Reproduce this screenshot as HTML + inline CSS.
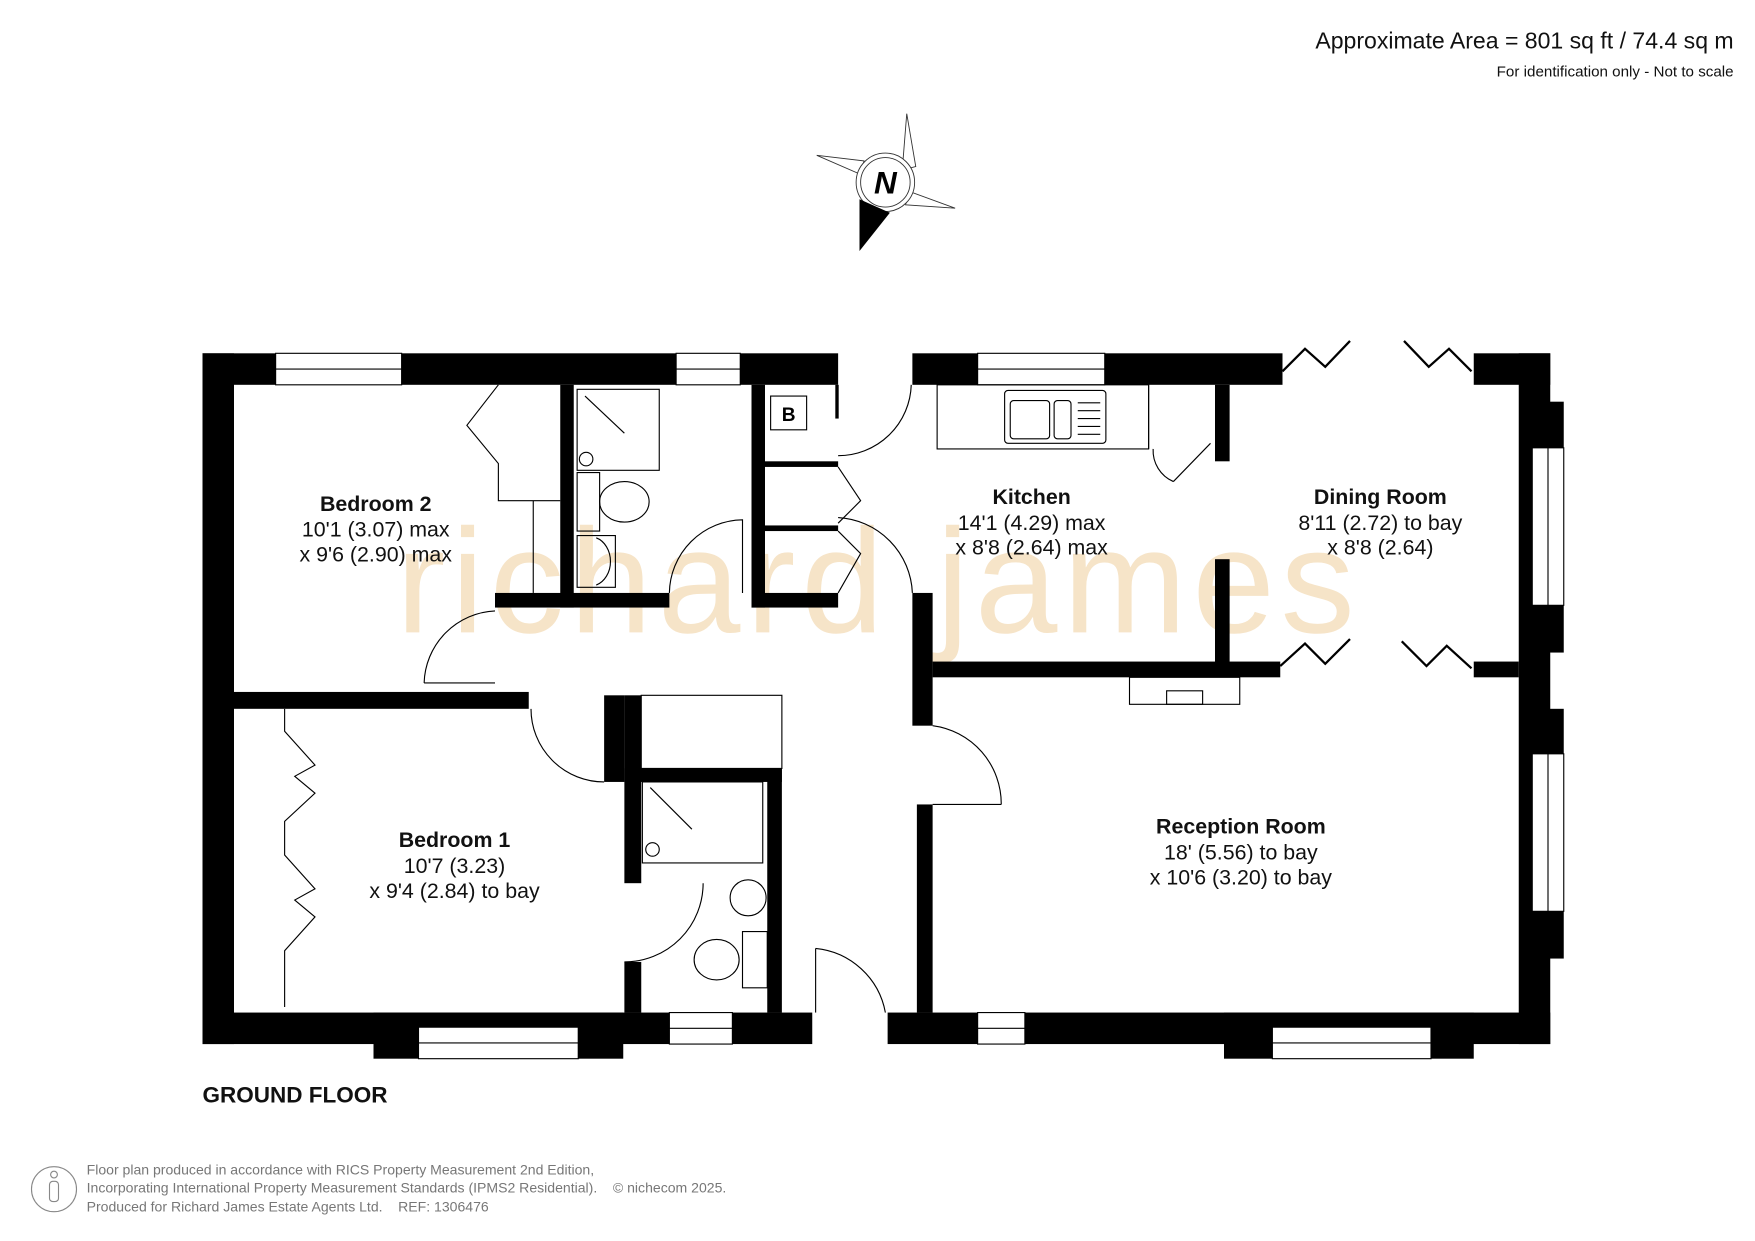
<!DOCTYPE html>
<html><head><meta charset="utf-8"><style>
html,body{margin:0;padding:0;background:#fff;}
svg{display:block;}
text{font-family:"Liberation Sans",Arial,sans-serif;}
</style></head><body>
<svg width="1755" height="1241" viewBox="0 0 1560 1103" xmlns="http://www.w3.org/2000/svg">
<rect width="1560" height="1103" fill="#fff"/>
<!-- watermark -->
<text x="352" y="562" font-size="132" fill="#f6e4c8" letter-spacing="5">richard james</text>

<!-- header -->
<text x="1541" y="43" font-size="20.5" text-anchor="end" fill="#111">Approximate Area = 801 sq ft / 74.4 sq m</text>
<text x="1541" y="68" font-size="13.5" text-anchor="end" fill="#111">For identification only - Not to scale</text>

<!-- compass -->
<g stroke="#333" stroke-width="0.8" fill="none">
<polygon points="806,101 814,148 802,151"/>
<polygon points="726,138 768,143 765,155"/>
<polygon points="849,185 808,170 805,182"/>
<circle cx="787" cy="162" r="26" fill="#fff"/>
<circle cx="787" cy="162" r="22"/>
</g>
<polygon points="764,177 764,223 791,189" fill="#000"/>
<text x="787" y="172" font-size="28" font-weight="bold" font-style="italic" text-anchor="middle" fill="#000">N</text>

<g fill="#000">
<rect x="180" y="314" width="565" height="28"/>
<rect x="180" y="314" width="28" height="614"/>
<rect x="180" y="900" width="542" height="28"/>
<rect x="332" y="900" width="222" height="41"/>
<rect x="811" y="314" width="329" height="28"/>
<rect x="1310" y="314" width="68" height="28"/>
<rect x="1350" y="314" width="28" height="614"/>
<rect x="1362" y="357" width="28" height="41"/>
<rect x="1362" y="538" width="28" height="42"/>
<rect x="1362" y="630" width="28" height="40"/>
<rect x="1362" y="810" width="28" height="42"/>
<rect x="789" y="900" width="589" height="28"/>
<rect x="1088" y="900" width="222" height="41"/>
<rect x="208" y="615" width="262" height="15"/>
<rect x="498" y="342" width="12" height="198"/>
<rect x="440" y="527" width="155" height="13"/>
<rect x="668" y="342" width="12" height="198"/>
<rect x="668" y="527" width="77" height="13"/>
<rect x="680" y="410" width="65" height="5"/>
<rect x="680" y="467" width="65" height="5"/>
<rect x="811" y="527" width="18" height="118"/>
<rect x="815" y="715" width="14" height="185"/>
<rect x="829" y="588" width="309" height="14"/>
<rect x="1080" y="342" width="13" height="68"/>
<rect x="1080" y="497" width="13" height="93"/>
<rect x="1310" y="588" width="40" height="14"/>
<rect x="537" y="618" width="18" height="77"/>
<rect x="555" y="618" width="15" height="167"/>
<rect x="555" y="855" width="15" height="45"/>
<rect x="555" y="683" width="140" height="12"/>
<rect x="682" y="683" width="13" height="217"/>
</g>
<g fill="#fff" stroke="#000" stroke-width="1">
<rect x="245" y="314" width="112" height="28"/><line x1="245" y1="328" x2="357" y2="328"/>
<rect x="601" y="314" width="57" height="28"/><line x1="601" y1="328" x2="658" y2="328"/>
<rect x="869" y="314" width="113" height="28"/><line x1="869" y1="328" x2="982" y2="328"/>
<rect x="372" y="913" width="142" height="28"/><line x1="372" y1="927" x2="514" y2="927"/>
<rect x="595" y="900" width="56" height="28"/><line x1="595" y1="914" x2="651" y2="914"/>
<rect x="869" y="900" width="42" height="28"/><line x1="869" y1="914" x2="911" y2="914"/>
<rect x="1131" y="913" width="141" height="28"/><line x1="1131" y1="927" x2="1272" y2="927"/>
<rect x="1362" y="398" width="28" height="140"/><line x1="1376" y1="398" x2="1376" y2="538"/>
<rect x="1362" y="670" width="28" height="140"/><line x1="1376" y1="670" x2="1376" y2="810"/>
</g>
<g fill="none" stroke="#000" stroke-width="1">
<polyline points="443,342 415,378 443,412 443,445 498,445"/>
<line x1="474" y1="445" x2="474" y2="527"/>
<rect x="513" y="346" width="73" height="72"/><line x1="520" y1="352" x2="555" y2="385"/><circle cx="521" cy="408" r="6"/>
<rect x="513" y="420" width="20" height="52"/><ellipse cx="555" cy="446" rx="22" ry="18"/>
<rect x="513" y="476" width="34" height="46"/><path d="M530,478 a18,22 0 0 1 0,42"/>
<path d="M595,527 A66,66 0 0 1 660,462 L660,527"/>
<path d="M377,607 A66,66 0 0 1 440,543"/><line x1="377" y1="607" x2="440" y2="607"/>
<path d="M472,630 A65,65 0 0 0 537,695"/>
<rect x="570" y="618" width="125" height="65"/>
<rect x="571" y="695" width="107" height="72"/><line x1="578" y1="700" x2="615" y2="737"/><circle cx="580" cy="755" r="6"/>
<circle cx="665" cy="798" r="16"/><rect x="660" y="828" width="22" height="50"/><ellipse cx="637" cy="853" rx="20" ry="18"/>
<path d="M555,855 A70,70 0 0 0 625,785"/>
<path d="M725,843 A70,70 0 0 1 787,900"/><line x1="725" y1="843" x2="725" y2="900"/>
<path d="M745,405 A65,65 0 0 0 810,342"/>
<polyline points="745,415 765,445 745,465"/>
<polyline points="745,472 765,492 745,527"/>
<path d="M745,460 A70,70 0 0 1 811,527"/>
<path d="M829,645 A70,70 0 0 1 890,715"/><line x1="829" y1="715" x2="890" y2="715"/>
<rect x="833" y="342" width="188" height="57"/>
<rect x="893" y="347" width="90" height="47" rx="3"/><rect x="898" y="356" width="35" height="34" rx="3"/><rect x="937" y="356" width="15" height="34" rx="3"/>
<line x1="958" y1="358" x2="978" y2="358"/><line x1="958" y1="365" x2="978" y2="365"/><line x1="958" y1="372" x2="978" y2="372"/><line x1="958" y1="379" x2="978" y2="379"/><line x1="958" y1="386" x2="978" y2="386"/>
<line x1="1021" y1="342" x2="1021" y2="399"/>
<polyline points="1043,428 1076,394"/><path d="M1043,428 A30,30 0 0 1 1025,399"/>
<rect x="1004" y="602" width="98" height="24"/><rect x="1037" y="614" width="32" height="12"/>
<polyline points="1140,330 1160,310 1178,326 1200,303" stroke-width="2"/>
<polyline points="1248,303 1270,326 1288,310 1308,330" stroke-width="2"/>
<polyline points="1138,592 1160,572 1178,590 1200,568" stroke-width="2"/>
<polyline points="1246,570 1268,592 1286,574 1308,594" stroke-width="2"/>
<polyline points="253,630 253,650 280,680 262,690 280,705 253,730 253,760 280,790 262,800 280,815 253,845 253,895" />
<rect x="685" y="352" width="32" height="30"/>
<line x1="744" y1="342" x2="744" y2="372" stroke-width="3"/>
</g>
<text x="701" y="374" font-size="17" font-weight="bold" text-anchor="middle">B</text>

<g font-size="19" text-anchor="middle" fill="#111">
<text x="334" y="454" font-weight="bold">Bedroom 2</text>
<text x="334" y="477">10'1 (3.07) max</text>
<text x="334" y="499">x 9'6 (2.90) max</text>
<text x="404" y="753" font-weight="bold">Bedroom 1</text>
<text x="404" y="776">10'7 (3.23)</text>
<text x="404" y="798">x 9'4 (2.84) to bay</text>
<text x="917" y="448" font-weight="bold">Kitchen</text>
<text x="917" y="471">14'1 (4.29) max</text>
<text x="917" y="493">x 8'8 (2.64) max</text>
<text x="1227" y="448" font-weight="bold">Dining Room</text>
<text x="1227" y="471">8'11 (2.72) to bay</text>
<text x="1227" y="493">x 8'8 (2.64)</text>
<text x="1103" y="741" font-weight="bold">Reception Room</text>
<text x="1103" y="764">18' (5.56) to bay</text>
<text x="1103" y="786">x 10'6 (3.20) to bay</text>
</g>
<text x="180" y="980" font-size="20" font-weight="bold" fill="#111">GROUND FLOOR</text>

<circle cx="48" cy="1057" r="20" fill="none" stroke="#888" stroke-width="1"/>
<rect x="44" y="1050" width="8" height="18" rx="3" fill="none" stroke="#888"/><circle cx="48" cy="1044" r="3" fill="none" stroke="#888"/>
<g font-size="12.5" fill="#777">
<text x="77" y="1044">Floor plan produced in accordance with RICS Property Measurement 2nd Edition,</text>
<text x="77" y="1060" xml:space="preserve">Incorporating International Property Measurement Standards (IPMS2 Residential).    © nichecom 2025.</text>
<text x="77" y="1077" xml:space="preserve">Produced for Richard James Estate Agents Ltd.    REF: 1306476</text>
</g>
</svg>
</body></html>
